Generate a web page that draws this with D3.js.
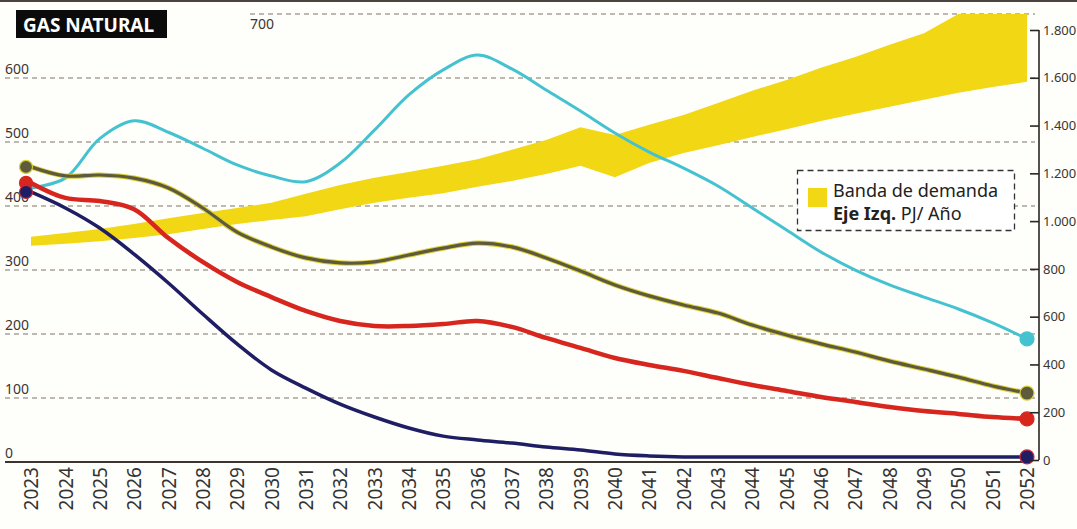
<!DOCTYPE html>
<html><head><meta charset="utf-8">
<script src="https://cdn.jsdelivr.net/npm/d3@7"></script>
<style>
html,body{margin:0;padding:0;background:#fff;}
svg{display:block;font-family:"Noto Sans",sans-serif;}
</style></head><body>
<svg id="chart" width="1077" height="529"></svg>
<script>
// ---- data ----
const years = [2023,2024,2025,2026,2027,2028,2029,2030,2031,2032,2033,2034,2035,2036,2037,
               2038,2039,2040,2041,2042,2043,2044,2045,2046,2047,2048,2049,2050,2051,2052];
// demand band, left axis (PJ/año)
const bandLow  = [338,341,345,350,356,364,372,378,384,395,405,413,420,430,439,
                  450,463,445,467,483,495,508,520,533,544,555,566,577,586,594];
const bandHigh = [352,358,364,372,381,389,397,405,419,433,444,453,463,473,488,
                  503,523,511,527,542,561,580,597,616,633,652,670,700,700,700];
// scenario lines, right axis
const cyanSeries  = [1139,1180,1345,1420,1372,1305,1235,1189,1165,1243,1381,1528,1633,1695,1637,
                     1549,1461,1369,1289,1222,1147,1055,963,871,795,733,682,632,574,507];
const oliveSeries = [1227,1189,1193,1180,1139,1055,954,892,846,825,829,858,887,908,892,
                     846,791,733,687,649,615,565,523,486,452,414,381,347,310,280];
const redSeries   = [1160,1097,1084,1050,929,829,745,682,624,582,561,561,569,582,557,
                     511,469,427,398,373,343,314,289,264,243,222,205,193,180,172];
const navySeries  = [1122,1055,971,862,741,611,486,377,301,234,180,134,100,84,71,
                     54,42,25,17,13,13,13,13,13,13,13,13,13,13,13];
const leftTicks  = [0,100,200,300,400,500,600,700];
const rightTicks = [0,200,400,600,800,1000,1200,1400,1600,1800];
const titleText = "GAS NATURAL";
const legendLine1 = "Banda de demanda";
const legendBold = "Eje Izq.";
const legendRest = " PJ/ Año";

// ---- scales ----
const x  = d3.scaleLinear().domain([2023,2052]).range([31,1027]);
const yL = d3.scaleLinear().domain([0,700]).range([462,14]);
const yR = d3.scaleLinear().domain([0,1800]).range([460,30]);

const svg = d3.select("#chart");
svg.append("rect").attr("width",1077).attr("height",529).attr("fill","#fefefb");

// top border
svg.append("line").attr("x1",0).attr("x2",1077).attr("y1",1).attr("y2",1)
  .attr("stroke","#4a4440").attr("stroke-width",2);

// gridlines + left labels
const grid = svg.append("g");
leftTicks.filter(t => t > 0).forEach(t => {
  grid.append("line")
    .attr("x1", t === 700 ? 250 : 5).attr("x2", 1035)
    .attr("y1", yL(t)).attr("y2", yL(t))
    .attr("stroke","#7d7367").attr("stroke-width",1).attr("stroke-dasharray","5 4");
});
grid.selectAll("text.l").data(leftTicks).join("text")
  .attr("x", d => d === 700 ? 250 : 5)
  .attr("y", d => d === 700 ? yL(d) + 15 : yL(d) - 4)
  .attr("font-size",14).attr("fill","#3a3632")
  .text(d => d);

// band
const data = years.map((yr,i) => ({yr, lo:bandLow[i], hi:bandHigh[i],
  c:cyanSeries[i], o:oliveSeries[i], r:redSeries[i], n:navySeries[i]}));
const bandColor = "#f2d714";
svg.append("path").datum(data)
  .attr("d", d3.area().x(d => x(d.yr)).y0(d => yL(d.lo)).y1(d => yL(d.hi)).curve(d3.curveLinear))
  .attr("fill", bandColor);

// baseline
svg.append("line").attr("x1",5).attr("x2",1030).attr("y1",yL(0)).attr("y2",yL(0))
  .attr("stroke","#3a3530").attr("stroke-width",2);

// legend
const lg = svg.append("g");
lg.append("rect").attr("x",797.5).attr("y",170.5).attr("width",217).attr("height",60)
  .attr("fill","#fff").attr("stroke","#333").attr("stroke-width",1.3).attr("stroke-dasharray","6 4");
lg.append("rect").attr("x",808).attr("y",188).attr("width",19).attr("height",19).attr("fill",bandColor);
lg.append("text").attr("x",833).attr("y",197).attr("font-size",18).attr("fill","#222").text(legendLine1);
const t2 = lg.append("text").attr("x",833).attr("y",220).attr("font-size",18).attr("fill","#222");
t2.append("tspan").attr("font-weight","bold").text(legendBold);
t2.append("tspan").text(legendRest);

// lines
const lineGen = key => d3.line().x(d => x(d.yr)).y(d => yR(d[key])).curve(d3.curveCatmullRom.alpha(0.5));
const lines = svg.append("g").attr("fill","none").attr("stroke-linecap","round");
lines.append("path").datum(data).attr("d", lineGen("c")).attr("stroke","#45c2cf").attr("stroke-width",3);
lines.append("path").datum(data).attr("d", lineGen("o")).attr("stroke","#d9cf36").attr("stroke-width",5.2);
lines.append("path").datum(data).attr("d", lineGen("o")).attr("stroke","#5e5a3c").attr("stroke-width",3.2);
lines.append("path").datum(data).attr("d", lineGen("r")).attr("stroke","#d7261e").attr("stroke-width",4.5);
lines.append("path").datum(data).attr("d", lineGen("n")).attr("stroke","#1f1d63").attr("stroke-width",3.5);

// dots
const first = data[0], last = data[data.length-1];
const dots = svg.append("g");
const dotSpecs = [
  {key:"o", fill:"#5e5a3c", stroke:"#d9cf36"},
  {key:"r", fill:"#d7261e", stroke:"#d7261e"},
  {key:"n", fill:"#1f1d63", stroke:"#c8283a"}
];
dotSpecs.forEach(s => {
  dots.append("circle").attr("cx", x(first.yr) - 5).attr("cy", yR(first[s.key])).attr("r",6.5)
    .attr("fill", s.fill).attr("stroke", s.stroke).attr("stroke-width",1.2);
});
[{key:"c", fill:"#45c2cf", stroke:"#45c2cf"}].concat(dotSpecs).forEach(s => {
  dots.append("circle").attr("cx", x(last.yr)).attr("cy", yR(last[s.key])).attr("r",7)
    .attr("fill", s.fill).attr("stroke", s.stroke).attr("stroke-width",1.2);
});

// right axis
const ra = svg.append("g").attr("transform","translate(1039,0)")
  .call(d3.axisRight(yR).tickValues(rightTicks).tickSize(0)
    .tickFormat(d => d3.format(",")(d).replace(/,/g,".")));
ra.select(".domain").remove();
ra.append("line").attr("x1",0).attr("x2",0).attr("y1",yR(1800)).attr("y2",yR(0))
  .attr("stroke","#2a2623").attr("stroke-width",1.6);
ra.selectAll(".tick line").attr("x1",-9).attr("x2",0).attr("stroke","#2a2623").attr("stroke-width",1.6);
ra.selectAll(".tick text").attr("x",4).attr("font-size",13).attr("fill","#3a3632")
  .attr("font-family","Noto Sans, sans-serif");

// x axis labels
const xa = svg.append("g").attr("transform",`translate(0,${yL(0)})`)
  .call(d3.axisBottom(x).tickValues(years).tickSize(0).tickFormat(d3.format("d")));
xa.select(".domain").remove();
xa.selectAll(".tick text")
  .attr("transform","rotate(-90)").attr("x",-5).attr("y",0).attr("dy","0.35em")
  .style("text-anchor","end").attr("font-size",19).attr("fill","#333")
  .attr("font-family","Noto Sans, sans-serif");

// title
svg.append("rect").attr("x",16).attr("y",10).attr("width",151).attr("height",28).attr("fill","#0b0b0b");
svg.append("text").attr("x",23).attr("y",31.5).attr("font-size",19).attr("font-weight","bold")
  .attr("fill","#fff").text(titleText);
</script>
</body></html>
